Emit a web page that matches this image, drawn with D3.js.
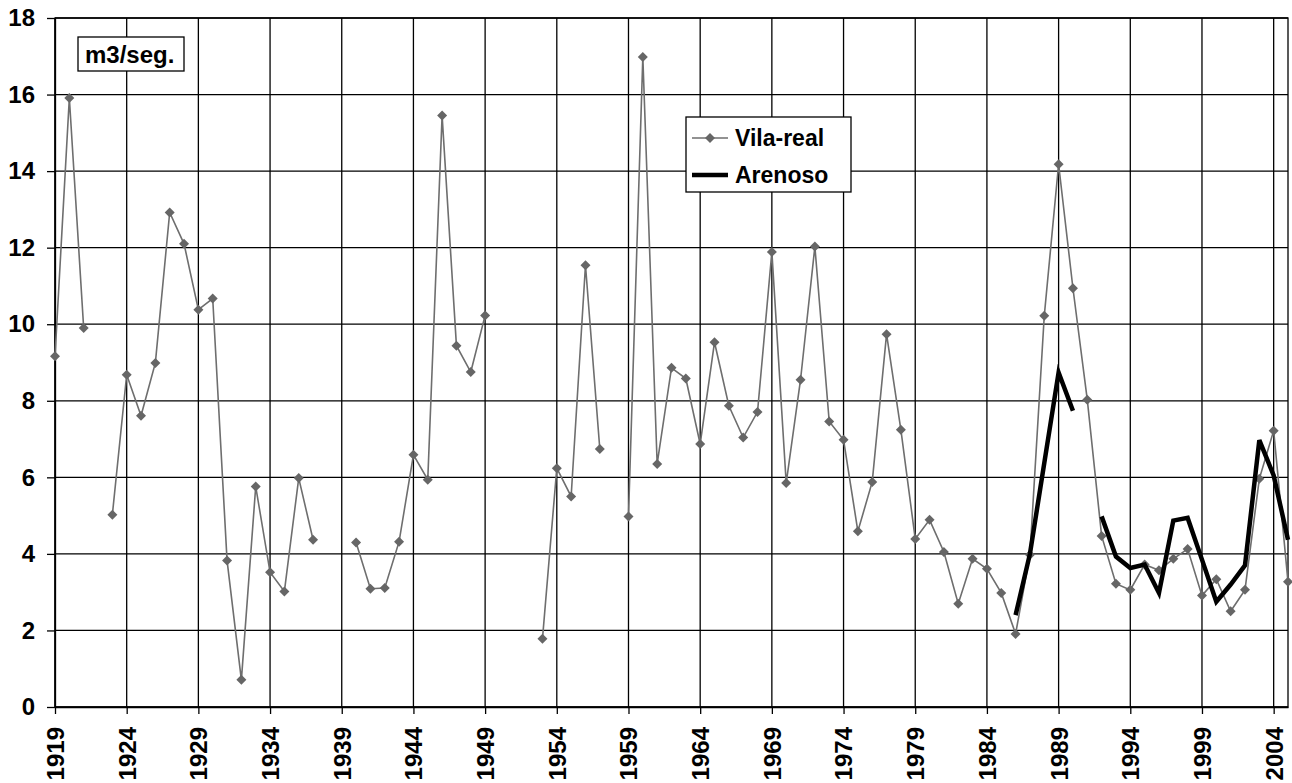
<!DOCTYPE html>
<html>
<head>
<meta charset="utf-8">
<script src="https://cdn.jsdelivr.net/npm/d3@7"></script>
<style>
  body { margin: 0; background: #fff; }
  text { font-family: "Liberation Sans", Arial, sans-serif; font-weight: bold; fill: #000; }
</style>
</head>
<body>
<script>
const WIDTH = 1292
const HEIGHT = 783
const MARGIN = { top: 18, right: 4, bottom: 76, left: 55 }

// années (catégories)
const YEARS = [1919, 1920, 1921, 1922, 1923, 1924, 1925, 1926, 1927, 1928,
  1929, 1930, 1931, 1932, 1933, 1934, 1935, 1936, 1937, 1938,
  1939, 1940, 1941, 1942, 1943, 1944, 1945, 1946, 1947, 1948,
  1949, 1950, 1951, 1952, 1953, 1954, 1955, 1956, 1957, 1958,
  1959, 1960, 1961, 1962, 1963, 1964, 1965, 1966, 1967, 1968,
  1969, 1970, 1971, 1972, 1973, 1974, 1975, 1976, 1977, 1978,
  1979, 1980, 1981, 1982, 1983, 1984, 1985, 1986, 1987, 1988,
  1989, 1990, 1991, 1992, 1993, 1994, 1995, 1996, 1997, 1998,
  1999, 2000, 2001, 2002, 2003, 2004, 2005]

// débit Vila-real (m3/seg.), null = pas de donnée
const VILAREAL = [9.16, 15.91, 9.90, null, 5.02, 8.68, 7.61, 8.99, 12.92, 12.10,
  10.38, 10.67, 3.83, 0.71, 5.76, 3.52, 3.02, 5.98, 4.37, null,
  null, 4.30, 3.09, 3.11, 4.32, 6.59, 5.94, 15.45, 9.44, 8.75,
  10.23, null, null, null, 1.78, 6.24, 5.50, 11.54, 6.74, null,
  4.98, 16.98, 6.35, 8.86, 8.58, 6.87, 9.53, 7.87, 7.04, 7.71,
  11.89, 5.85, 8.55, 12.03, 7.46, 6.98, 4.59, 5.88, 9.74, 7.24,
  4.39, 4.89, 4.05, 2.70, 3.87, 3.61, 2.98, 1.91, 3.98, 10.22,
  14.18, 10.94, 8.03, 4.47, 3.22, 3.06, 3.72, 3.57, 3.87, 4.13,
  2.91, 3.34, 2.50, 3.06, 5.96, 7.22, 3.27]

// débit Arenoso, à partir de 1986
const ARENOSO_YEARS = [1986, 1987, 1988, 1989, 1990, 1991, 1992, 1993, 1994, 1995,
  1996, 1997, 1998, 1999, 2000, 2001, 2002, 2003, 2004, 2005]
const ARENOSO = [2.40, 4.00, 6.37, 8.74, 7.74, null, 4.98, 3.93, 3.63, 3.72,
  2.98, 4.87, 4.94, 3.85, 2.75, 3.20, 3.70, 6.97, 6.05, 4.37]

const X_TICKS = [1919, 1924, 1929, 1934, 1939, 1944, 1949, 1954, 1959, 1964,
  1969, 1974, 1979, 1984, 1989, 1994, 1999, 2004]
const Y_TICKS = [0, 2, 4, 6, 8, 10, 12, 14, 16, 18]

const w = WIDTH - MARGIN.left - MARGIN.right
const h = HEIGHT - MARGIN.top - MARGIN.bottom

const svg = d3.select("body").append("svg")
  .attr("width", WIDTH).attr("height", HEIGHT)

svg.append("rect").attr("width", WIDTH).attr("height", HEIGHT).attr("fill", "#fff")

const g = svg.append("g").attr("transform", `translate(${MARGIN.left},${MARGIN.top})`)

const x = d3.scaleLinear().domain([1919, 2005]).range([0, w])
const y = d3.scaleLinear().domain([0, 18]).range([h, 0])

// grille
g.append("g").selectAll("line").data(Y_TICKS).enter().append("line")
  .attr("x1", 0).attr("x2", w)
  .attr("y1", d => y(d)).attr("y2", d => y(d))
  .attr("stroke", "#000").attr("stroke-width", 1.3)
g.append("g").selectAll("line").data(X_TICKS).enter().append("line")
  .attr("x1", d => x(d)).attr("x2", d => x(d))
  .attr("y1", 0).attr("y2", h)
  .attr("stroke", "#000").attr("stroke-width", 1.3)
g.append("rect").attr("width", w).attr("height", h)
  .attr("fill", "none").attr("stroke", "#000").attr("stroke-width", 1.3)

// axes
const yAxis = g.append("g")
  .call(d3.axisLeft(y).tickValues(Y_TICKS).tickSize(8).tickPadding(12).tickSizeOuter(0))
yAxis.select(".domain").attr("stroke", "#000").attr("stroke-width", 1.3)
yAxis.selectAll(".tick line").attr("stroke", "#000").attr("stroke-width", 1.3)
yAxis.selectAll("text").attr("font-size", 24).attr("fill", "#000")

const xAxis = g.append("g").attr("transform", `translate(0,${h})`)
  .call(d3.axisBottom(x).tickValues(X_TICKS).tickFormat(d3.format("d")).tickSize(7).tickSizeOuter(0))
xAxis.select(".domain").attr("stroke", "#000").attr("stroke-width", 1.3)
xAxis.selectAll(".tick line").attr("stroke", "#000").attr("stroke-width", 1.3)
xAxis.selectAll("text")
  .attr("font-size", 24).attr("fill", "#000")
  .attr("text-anchor", "end")
  .attr("transform", "translate(0,20) rotate(-90)")
  .attr("x", 0).attr("y", 0).attr("dy", "0.35em")

// séries
const vila = YEARS.map((yr, i) => ({ year: yr, v: VILAREAL[i] }))
const aren = ARENOSO_YEARS.map((yr, i) => ({ year: yr, v: ARENOSO[i] }))

const line = d3.line()
  .defined(d => d.v !== null)
  .x(d => x(d.year))
  .y(d => y(d.v))

g.append("path").datum(vila)
  .attr("d", line)
  .attr("fill", "none").attr("stroke", "#6e6e6e").attr("stroke-width", 1.6)

const diamond = d3.symbol().type(d3.symbolSquare).size(50)
g.append("g").selectAll("path").data(vila.filter(d => d.v !== null)).enter().append("path")
  .attr("d", diamond)
  .attr("transform", d => `translate(${x(d.year)},${y(d.v)}) rotate(45)`)
  .attr("fill", "#666")

g.append("path").datum(aren)
  .attr("d", line)
  .attr("fill", "none").attr("stroke", "#000").attr("stroke-width", 4.5)
  .attr("stroke-linejoin", "miter")

// étiquette d'unité
svg.append("rect").attr("x", 78).attr("y", 37).attr("width", 106).attr("height", 34)
  .attr("fill", "#fff").attr("stroke", "#000").attr("stroke-width", 1.3)
svg.append("text").attr("x", 85).attr("y", 63).attr("font-size", 24).text("m3/seg.")

// légende
const leg = svg.append("g")
leg.append("rect").attr("x", 686).attr("y", 117).attr("width", 165).attr("height", 75)
  .attr("fill", "#fff").attr("stroke", "#000").attr("stroke-width", 1.3)
leg.append("line").attr("x1", 692).attr("x2", 728).attr("y1", 138).attr("y2", 138)
  .attr("stroke", "#6e6e6e").attr("stroke-width", 1.6)
leg.append("path").attr("d", diamond).attr("transform", "translate(710,138) rotate(45)").attr("fill", "#666")
leg.append("text").attr("x", 735).attr("y", 146).attr("font-size", 23).text("Vila-real")
leg.append("line").attr("x1", 692).attr("x2", 728).attr("y1", 175).attr("y2", 175)
  .attr("stroke", "#000").attr("stroke-width", 4.5)
leg.append("text").attr("x", 735).attr("y", 183).attr("font-size", 23).text("Arenoso")
</script>
</body>
</html>
